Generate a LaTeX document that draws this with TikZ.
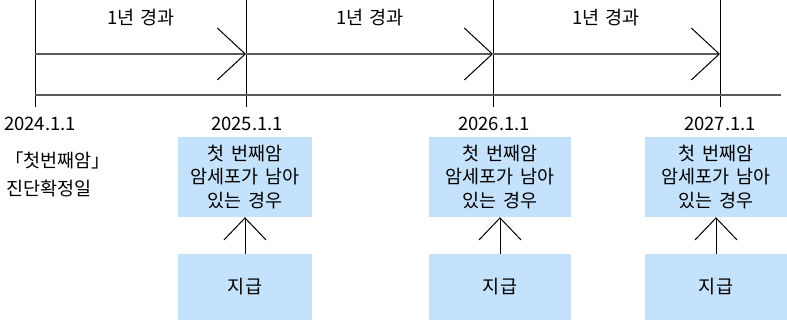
\documentclass[tikz,border=0pt]{standalone}
\usepackage{fontspec}
\setmainfont[WordSpace=1.6]{Noto Sans CJK KR}
\usetikzlibrary{arrows.meta}
\definecolor{boxblue}{RGB}{197,226,252}
\tikzset{
  tick/.style={draw=black, line width=1pt},
  span/.style={draw=black!65, line width=1.6pt,
    -{Straight Barb[length=28pt,width=52pt,line width=1pt,black]}},
  upto/.style={draw=black, line width=1pt,
    -{Straight Barb[length=22pt,width=42pt,line width=1pt,black]}},
  blue box/.style={fill=boxblue, inner sep=0pt, align=center},
  txt/.style={font=\fontsize{18.5pt}{23.5pt}\selectfont, inner sep=0pt}
}
\begin{document}
\begin{tikzpicture}[x=1pt,y=-1pt]
    \useasboundingbox (0,0) rectangle (787,320);

    % time ticks
    \coordinate (t0) at (35,54);
    \coordinate (t1) at (246,54);
    \coordinate (t2) at (493,54);
    \coordinate (t3) at (720,54);
    \draw[tick] (35,0) -- (35,107);
    \draw[tick] (246,0) -- (246,107);
    \draw[tick] (493,0) -- (493,107);
    \draw[tick] (720,0) -- (720,107);

    \draw[span] (t0) -- (t1);
    \draw[span] (t1) -- (t2);
    \draw[span] (t2) -- (t3);
    \coordinate (base0) at (35,95);
    \coordinate (base1) at (781,95);
    \draw[draw=black!65, line width=1.6pt] (base0) -- (base1);

    \node[txt] (y1) at (141,18) {1년 경과};
    \node[txt] (y2) at (370,18) {1년 경과};
    \node[txt] (y3) at (606,18) {1년 경과};

    \node[txt] (d0) at (40,124) {2024.1.1};
    \node[txt] (d1) at (247,124) {2025.1.1};
    \node[txt] (d2) at (494,124) {2026.1.1};
    \node[txt] (d3) at (720,124) {2027.1.1};

    \node[txt,anchor=west] (diag1) at (5,160) {「첫번째암」};
    \node[txt,anchor=west] (diag2) at (6,189) {진단확정일};

    % boxes
    \node[blue box,txt,minimum width=134pt,minimum height=80pt] (c1) at (245,177)
      {첫 번째암\\암세포가 남아\\있는 경우};
    \node[blue box,txt,minimum width=142pt,minimum height=80pt] (c2) at (500,177)
      {첫 번째암\\암세포가 남아\\있는 경우};
    \node[blue box,txt,minimum width=142pt,minimum height=80pt] (c3) at (716,177)
      {첫 번째암\\암세포가 남아\\있는 경우};

    \node[blue box,txt,minimum width=134pt,minimum height=66pt] (g1) at (245,287) {지급};
    \node[blue box,txt,minimum width=142pt,minimum height=66pt] (g2) at (500,287) {지급};
    \node[blue box,txt,minimum width=142pt,minimum height=66pt] (g3) at (716,287) {지급};

    \draw[upto] (g1) -- (c1);
    \draw[upto] (g2) -- (c2);
    \draw[upto] (g3) -- (c3);
\end{tikzpicture}
\end{document}
